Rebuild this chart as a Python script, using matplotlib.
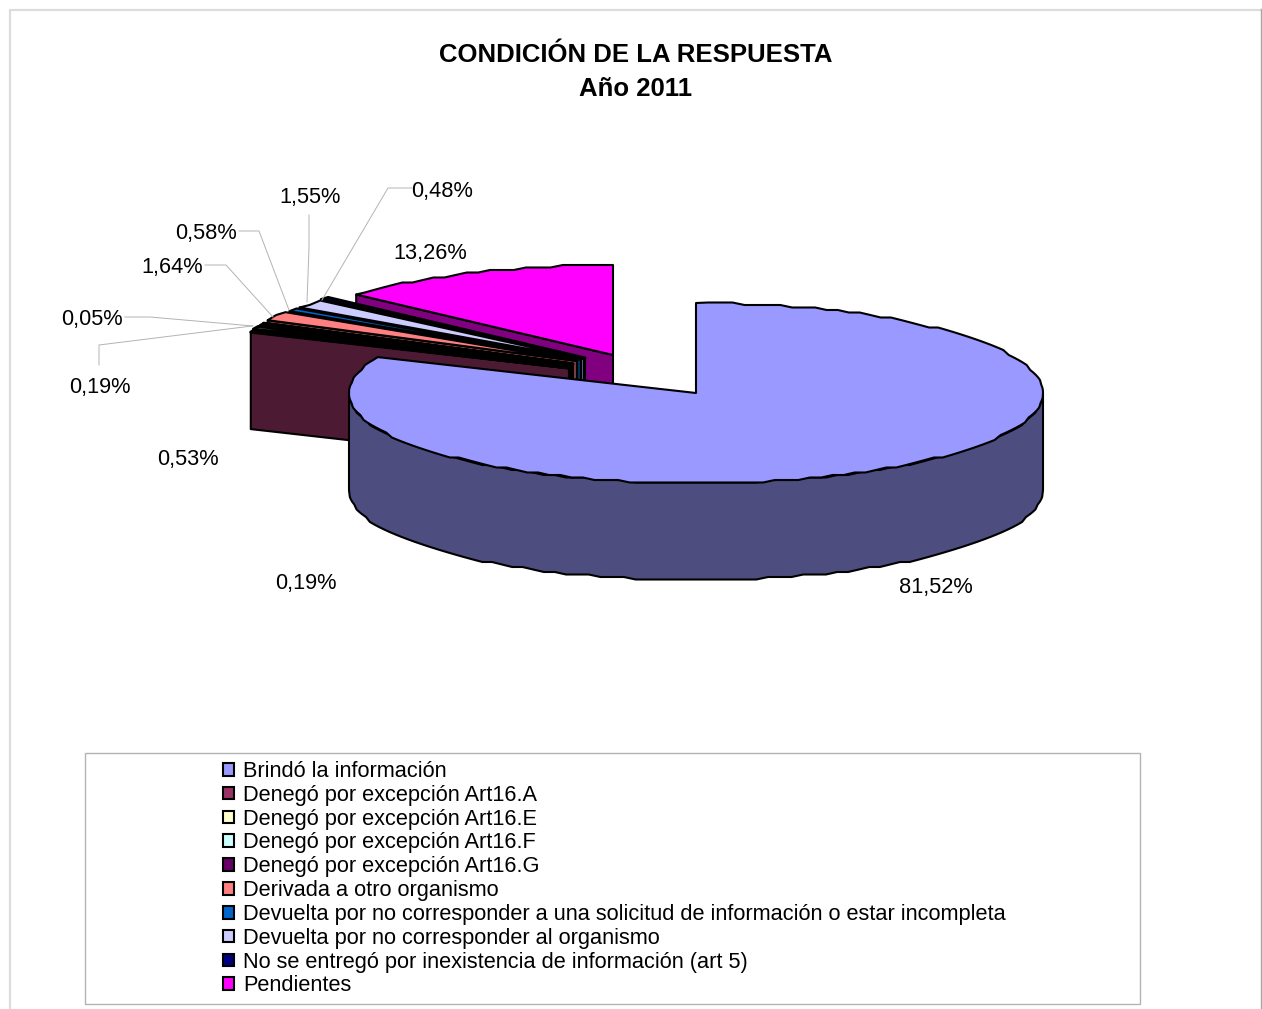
import numpy as np
import matplotlib.pyplot as plt
from matplotlib.patches import Patch, Rectangle, Polygon

plt.rcParams['font.family'] = ['Liberation Sans', 'DejaVu Sans']

# chart values, in pie order (clockwise from twelve o'clock)
categories = ['Brindó la información', 'Denegó por excepción Art16.A', 'Denegó por excepción Art16.E',
              'Denegó por excepción Art16.F', 'Denegó por excepción Art16.G', 'Derivada a otro organismo',
              'Devuelta por no corresponder a una solicitud de información o estar incompleta',
              'Devuelta por no corresponder al organismo',
              'No se entregó por inexistencia de información (art 5)', 'Pendientes']
values = [81.52, 0.19, 0.53, 0.19, 0.05, 1.64, 0.58, 1.55, 0.48, 13.26]
colors = ['#9999ff', '#993366', '#ffffcc', '#ccffff', '#660066', '#ff8080', '#0066cc', '#ccccff', '#000080', '#ff00ff']
wall_colors = ['#4d4d80', '#4d1a33', '#808066', '#668080', '#330033', '#804040', '#003366', '#666680', '#000040', '#800080']

# how far each slice is pulled out from the pie centre, pixels
explode_x = [0, -127, -126, -124, -123, -119, -115, -112, -111, -83]
explode_y = [0, -25, -27, -28, -29, -32, -33, -34, -35, -38]

# label text position, and the leader line for the ones that have one
label_pos = [(936, 587), (306, 583), (188, 459), (100, 387), (92, 319), (172, 267), (206, 233), (310, 197), (442, 191), (430, 253)]
leaders = [None, None, None,
           [(99, 365), (99, 345), (252, 326)],
           [(125, 317), (150, 317), (253, 326)],
           [(205, 265), (226, 265), (273, 317)],
           [(239, 231), (259, 231), (289, 310)],
           [(309, 215), (309, 248), (307, 302)],
           [(412, 188), (388, 188), (322, 300)],
           None]

cx, cy = 696, 393
rx, ry = 347, 90
depth = 97

fig = plt.figure(figsize=(12.62, 10.09), dpi=100)
ax = fig.add_axes([0, 0, 1, 1])
ax.set_xlim(0, 1262)
ax.set_ylim(1009, 0)
ax.axis('off')


def rim(ax_x, ax_y, t):
    # point on the ellipse, t in degrees clockwise from the top
    t = np.radians(t)
    return ax_x + rx * np.sin(t), ax_y - ry * np.cos(t)


def arc(x0, y0, a, b):
    # the original rim is a slightly rough polygon, so snap y to a coarse grid
    n = max(2, int((b - a) / 2) + 1)
    t = np.linspace(a, b, n)
    xs, ys = rim(x0, y0, t)
    ys[1:-1] = np.round(ys[1:-1] / 2.5) * 2.5
    return xs, ys


def i_z(i):
    # back slices first, the big one last
    return 2 + (len(values) - i) if i > 0 else 40


def draw_slice(i, start, end):
    x0 = cx + explode_x[i]
    y0 = cy + explode_y[i]
    lw = 1.5 if values[i] > 0.55 else 2.2
    # side wall of the cut at the start of the slice
    sx, sy = rim(x0, y0, start)
    if i > 0:
        ax.add_patch(Polygon([(sx, sy), (x0, y0), (x0, y0 + depth), (sx, sy + depth)],
                             fc=wall_colors[i], ec='black', lw=1.5, zorder=i_z(i), joinstyle='round'))
    # outer wall, only the part of the rim that faces the viewer
    a = max(start, 90)
    b = min(end, 270)
    if a < b:
        xs, ys = arc(x0, y0, a, b)
        pts = list(zip(xs, ys)) + list(zip(xs[::-1], ys[::-1] + depth))
        ax.add_patch(Polygon(pts, fc=wall_colors[i], ec='black', lw=1.5, zorder=i_z(i), joinstyle='round'))
    # top
    xs, ys = arc(x0, y0, start, end)
    pts = [(x0, y0)] + list(zip(xs, ys))
    ax.add_patch(Polygon(pts, fc=colors[i], ec='black', lw=lw, zorder=i_z(i) + 0.5, joinstyle='round'))


edges = np.concatenate([[0], np.cumsum(values)]) / sum(values) * 360
for i in range(len(values)):
    draw_slice(i, edges[i], edges[i + 1])

# labels
for i in range(len(values)):
    txt = f'{values[i]:.2f}%'.replace('.', ',')
    ax.text(label_pos[i][0], label_pos[i][1], txt, fontsize=15.7, ha='center', va='center', color='black', zorder=50)
    if leaders[i] is not None:
        lx = [p[0] for p in leaders[i]]
        ly = [p[1] for p in leaders[i]]
        ax.plot(lx, ly, color='#b3b3b3', lw=0.7, zorder=45)

# titles
ax.text(636, 55, 'CONDICIÓN DE LA RESPUESTA', fontsize=18.5, fontweight='bold', ha='center', va='center')
ax.text(636, 89, 'Año 2011', fontsize=18.5, fontweight='bold', ha='center', va='center')

# outer frame and legend box
ax.plot([9.5, 9.5, 1261], [1009, 9.5, 9.5], color='#dcdcdc', lw=1.6)
ax.plot([1261, 1261], [9, 1009], color='#a6a6a6', lw=1)
ax.add_patch(Rectangle((85, 753), 1055, 251, fc='white', ec='#b3b3b3', lw=1))
handles = [Patch(fc=c, ec='black', lw=1.5) for c in colors]
ax.legend(handles, categories, loc='upper left', bbox_to_anchor=(223, 761), bbox_transform=ax.transData,
          frameon=False, fontsize=15.65, borderpad=0, borderaxespad=0, labelspacing=0.13,
          handlelength=0.52, handleheight=0.52, handletextpad=0.4)

fig.savefig('out.png', dpi=100)
